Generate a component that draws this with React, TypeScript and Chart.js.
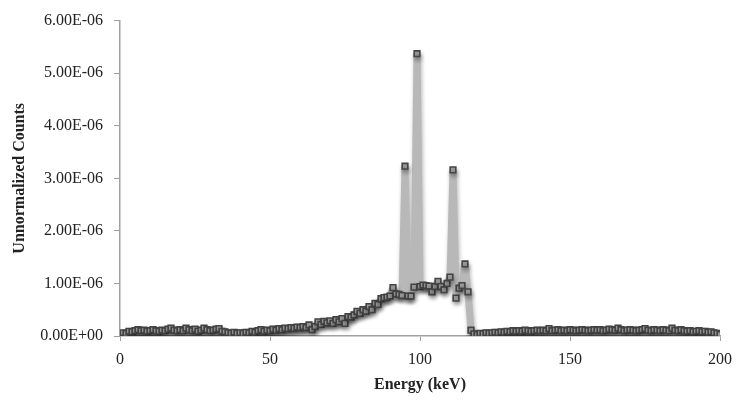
import React, { useEffect, useRef } from "react";
import { Chart, registerables } from "chart.js";

Chart.register(...registerables);

// Energy bins (keV), 1 keV spacing from 0 to 200
const energies: number[] = Array.from({ length: 201 }, (_, i) => i);

// Unnormalized counts, in units of 1e-6
const countsMicro: number[] = [
  0.00, 0.06, 0.05, 0.09, 0.08, 0.10, 0.12, 0.10, 0.11, 0.09,
  0.10, 0.12, 0.10, 0.09, 0.11, 0.10, 0.13, 0.15, 0.11, 0.10,
  0.12, 0.10, 0.15, 0.12, 0.10, 0.13, 0.09, 0.11, 0.15, 0.12,
  0.10, 0.11, 0.13, 0.14, 0.09, 0.08, 0.06, 0.05, 0.07, 0.05,
  0.06, 0.05, 0.07, 0.06, 0.09, 0.07, 0.10, 0.12, 0.09, 0.11,
  0.10, 0.13, 0.11, 0.14, 0.12, 0.15, 0.14, 0.16, 0.15, 0.17,
  0.16, 0.18, 0.16, 0.21, 0.12, 0.18, 0.27, 0.22, 0.28, 0.25,
  0.29, 0.24, 0.31, 0.27, 0.33, 0.24, 0.37, 0.36, 0.40, 0.47,
  0.43, 0.50, 0.47, 0.56, 0.50, 0.62, 0.60, 0.71, 0.73, 0.74,
  0.76, 0.92, 0.80, 0.79, 0.77, 3.23, 0.76, 0.76, 0.93, 5.37,
  0.94, 0.97, 0.96, 0.95, 0.84, 0.94, 1.04, 0.94, 0.88, 1.00,
  1.12, 3.16, 0.72, 0.91, 0.96, 1.37, 0.84, 0.11, 0.04, 0.03,
  0.05, 0.04, 0.06, 0.05, 0.06, 0.07, 0.06, 0.08, 0.07, 0.09,
  0.08, 0.10, 0.09, 0.10, 0.09, 0.11, 0.10, 0.09, 0.10, 0.11,
  0.10, 0.11, 0.10, 0.14, 0.10, 0.11, 0.12, 0.10, 0.11, 0.10,
  0.12, 0.11, 0.10, 0.11, 0.12, 0.11, 0.10, 0.11, 0.12, 0.11,
  0.12, 0.10, 0.11, 0.13, 0.12, 0.11, 0.15, 0.12, 0.10, 0.11,
  0.12, 0.11, 0.10, 0.11, 0.12, 0.14, 0.11, 0.10, 0.12, 0.11,
  0.10, 0.12, 0.11, 0.10, 0.15, 0.11, 0.10, 0.12, 0.10, 0.09,
  0.10, 0.08, 0.09, 0.10, 0.08, 0.09, 0.07, 0.08, 0.06, 0.05,
  0.03,
];
const COUNT_UNIT = 1e-6;

const xTicks: number[] = [0, 50, 100, 150, 200];
const yTicks: number[] = [0, 1e-6, 2e-6, 3e-6, 4e-6, 5e-6, 6e-6];

const xTitle = "Energy (keV)";
const yTitle = "Unnormalized Counts";

function formatSci(v: number): string {
  if (v === 0) return "0.00E+00";
  const s = v.toExponential(2);
  const [mant, exp] = s.split("e");
  const n = parseInt(exp, 10);
  const sign = n < 0 ? "-" : "+";
  const abs = Math.abs(n).toString().padStart(2, "0");
  return `${mant}E${sign}${abs}`;
}

const shadowPlugin = {
  id: "lineShadow",
  beforeDatasetDraw(chart: any) {
    const ctx = chart.ctx;
    ctx.save();
    ctx.shadowColor = "rgba(0,0,0,0.3)";
    ctx.shadowBlur = 4;
    ctx.shadowOffsetX = 1;
    ctx.shadowOffsetY = 3;
  },
  afterDatasetDraw(chart: any) {
    chart.ctx.restore();
  },
};

export default function App() {
  const canvasRef = useRef<HTMLCanvasElement | null>(null);

  useEffect(() => {
    document.body.style.margin = "0";
    const canvas = canvasRef.current;
    if (!canvas) return;
    const points = energies.map((e, i) => ({ x: e, y: countsMicro[i] * COUNT_UNIT }));
    const chart = new Chart(canvas, {
      type: "line",
      data: {
        datasets: [
          {
            data: points,
            borderColor: "#b8b8b8",
            borderWidth: 7,
            borderJoinStyle: "bevel",
            pointStyle: "rect",
            pointRadius: 4,
            pointBackgroundColor: "#a3a3a3",
            pointBorderColor: "#444444",
            pointBorderWidth: 1.6,
            tension: 0,
            fill: false,
          },
        ],
      },
      options: {
        animation: false,
        responsive: false,
        maintainAspectRatio: false,
        layout: { padding: { top: 12, right: 23, left: 10, bottom: 0 } },
        plugins: {
          legend: { display: false },
          tooltip: { enabled: false },
        },
        scales: {
          x: {
            type: "linear",
            min: 0,
            max: 200,
            afterBuildTicks: (scale: any) => {
              scale.ticks = xTicks.map((v) => ({ value: v }));
            },
            afterFit: (scale: any) => {
              scale.height = 67;
            },
            border: { display: true, color: "#a0a0a0", width: 1.5 },
            grid: {
              display: true,
              drawOnChartArea: false,
              drawTicks: true,
              tickLength: 5,
              color: "#a0a0a0",
            },
            ticks: {
              color: "#222",
              font: { family: "Liberation Serif", size: 16 },
              padding: 9,
              maxRotation: 0,
            },
            title: {
              display: true,
              text: xTitle,
              color: "#222",
              font: { family: "Liberation Serif", size: 16, weight: "bold" },
              padding: { top: 4, bottom: 9 },
            },
          },
          y: {
            type: "linear",
            min: 0,
            max: 6e-6,
            afterBuildTicks: (scale: any) => {
              scale.ticks = yTicks.map((v) => ({ value: v }));
            },
            afterFit: (scale: any) => {
              scale.width = 110;
            },
            border: { display: true, color: "#a0a0a0", width: 1.5 },
            grid: {
              display: true,
              drawOnChartArea: false,
              drawTicks: true,
              tickLength: 6,
              color: "#a0a0a0",
            },
            ticks: {
              color: "#222",
              font: { family: "Liberation Serif", size: 16 },
              padding: 11,
              callback: (v: any) => formatSci(Number(v)),
            },
            title: {
              display: true,
              text: yTitle,
              color: "#222",
              font: { family: "Liberation Serif", size: 16, weight: "bold" },
              padding: { top: 0, bottom: 0 },
            },
          },
        },
      },
      plugins: [shadowPlugin],
    } as any);
    return () => chart.destroy();
  }, []);

  return (
    <div style={{ width: 743, height: 403 }}>
      <canvas ref={canvasRef} width={743} height={403} style={{ display: "block" }} />
    </div>
  );
}
